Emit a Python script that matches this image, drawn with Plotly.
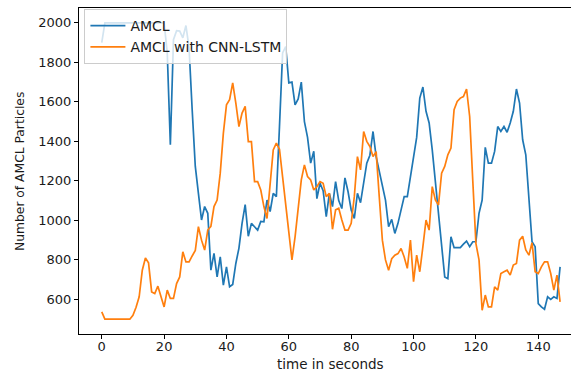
import plotly.graph_objects as go

time_s = list(range(148))

amcl = [
    1900, 2000, 2000, 2000, 2000, 2000, 2000, 2000, 2000, 2000,
    2000, 2000, 2000, 2000, 2000, 2000, 2000, 2000, 2000, 2000,
    2000, 1850, 1383, 1915, 1960, 1958, 1924, 1986, 1873, 1560,
    1273, 1137, 1002, 1070, 1036, 748, 833, 714, 815, 672,
    765, 664, 676, 782, 860, 985, 1080, 920, 985, 968,
    951, 995, 993, 1103, 1045, 1137, 1120, 1475, 1848, 1880,
    1696, 1700, 1585, 1615, 1700, 1500, 1420, 1290, 1350, 1110,
    1188, 1150, 1019, 1137, 1070, 1196, 1100, 1060, 1215, 1145,
    1053, 1010, 1137, 1090, 1195, 1290, 1330, 1450, 1323, 1250,
    1171, 1103, 968, 1005, 934, 985, 1053, 1120, 1120, 1222,
    1323, 1420, 1619, 1675, 1552, 1493, 1357, 1188, 1019, 850,
    714, 705, 917, 862, 862, 862, 880, 895, 867, 892,
    892, 1036, 1103, 1370, 1290, 1290, 1349, 1475, 1450, 1475,
    1446, 1493, 1552, 1665, 1594, 1408, 1332, 1103, 892, 867,
    579, 562, 550, 613, 600, 613, 605, 765,
]

amcl_cnn_lstm = [
    537, 500, 500, 500, 500, 500, 500, 500, 500, 500,
    520, 560, 613, 748, 810, 785, 638, 630, 667, 613,
    562, 647, 605, 605, 680, 714, 841, 790, 790, 820,
    848, 968, 900, 850, 951, 970, 1070, 1103, 1239, 1442,
    1585, 1611, 1696, 1594, 1475, 1543, 1577, 1399, 1399, 1196,
    1196, 1154, 1070, 1010, 1180, 1357, 1391, 1360, 1220, 1080,
    940, 800, 917, 1053, 1205, 1281, 1222, 1205, 1154, 1171,
    1196, 1188, 1120, 1137, 955, 1053, 1061, 1002, 951, 951,
    985, 1120, 1323, 1256, 1450, 1400, 1374, 1323, 1348, 1120,
    900, 800, 748, 806, 824, 832, 858, 815, 757, 900,
    690, 824, 740, 867, 1002, 951, 1171, 1103, 1078, 1239,
    1273, 1332, 1366, 1560, 1602, 1619, 1627, 1665, 1526, 1200,
    884, 800, 545, 622, 562, 562, 664, 647, 731, 740,
    748, 723, 774, 782, 900, 920, 850, 824, 887, 740,
    731, 765, 790, 790, 731, 647, 723, 588,
]

x_ticks = [0, 20, 40, 60, 80, 100, 120, 140]
y_ticks = [600, 800, 1000, 1200, 1400, 1600, 1800, 2000]

FONT = "DejaVu Sans"

fig = go.Figure()
fig.add_trace(go.Scatter(x=time_s, y=amcl, mode="lines", name="AMCL",
                         line=dict(color="#1f77b4", width=1.7)))
fig.add_trace(go.Scatter(x=time_s, y=amcl_cnn_lstm, mode="lines",
                         name="AMCL with CNN-LSTM",
                         line=dict(color="#ff7f0e", width=1.7)))

axis_common = dict(showgrid=False, zeroline=False, showline=True,
                   linecolor="black", linewidth=1, ticks="outside",
                   ticklen=4, tickwidth=1, tickcolor="black",
                   tickfont=dict(family=FONT, size=13, color="#1a1a1a"))

fig.update_layout(
    width=571, height=374,
    margin=dict(l=79, r=0, t=8, b=40, pad=0),
    paper_bgcolor="white", plot_bgcolor="white",
    font=dict(family=FONT, size=13, color="#1a1a1a"),
    showlegend=True,
    legend=dict(x=0.011, y=0.997, xanchor="left", yanchor="top",
                bgcolor="rgba(255,255,255,0.8)", bordercolor="#cccccc",
                borderwidth=1, font=dict(family=FONT, size=14, color="#1a1a1a"),
                itemwidth=35, tracegroupgap=0),
    xaxis=dict(range=[-7.3, 150.5], tickmode="array", tickvals=x_ticks,
               mirror=True, ticklabelstandoff=-4, **axis_common),
    yaxis=dict(range=[425, 2075], tickmode="array", tickvals=y_ticks,
               mirror=False, **axis_common),
    annotations=[
        dict(text="time in seconds", xref="paper", yref="paper",
             x=0.512, y=-0.092, xanchor="center", yanchor="middle",
             showarrow=False, font=dict(family=FONT, size=13.5, color="#1a1a1a")),
        dict(text="Number of AMCL Particles", xref="paper", yref="paper",
             x=-0.12, y=0.5, xanchor="center", yanchor="middle",
             textangle=-90, showarrow=False,
             font=dict(family=FONT, size=12.3, color="#1a1a1a")),
    ],
)

fig.write_html("out.html")
